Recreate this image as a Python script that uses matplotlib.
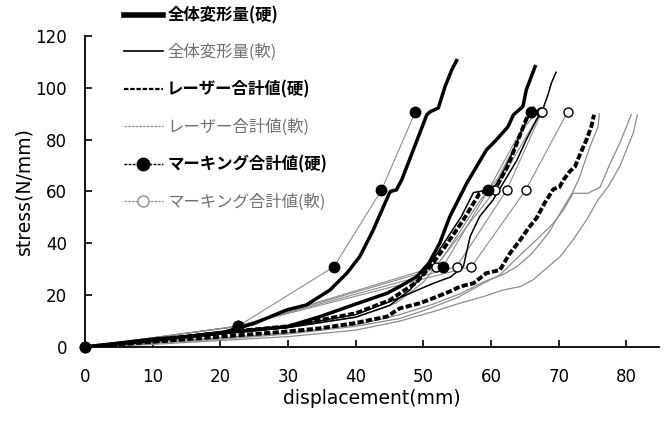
import matplotlib
matplotlib.use("Agg")
import matplotlib.pyplot as plt
from matplotlib.lines import Line2D

plt.rcParams['font.family'] = ['DejaVu Sans', 'Noto Sans CJK JP']

# ---- data (displacement mm, stress N/mm) ----
# 全体変形量(硬) : thick solid
hard_total_1_x = [0, 5, 10, 15, 20, 25, 29.8, 32.7, 36.2, 38.7, 40.6, 42.6, 44.1, 45.1, 46.0, 46.8, 48.5, 50.5, 51.0, 52.2, 53.2, 54.2, 54.9]
hard_total_1_y = [0, 1.5, 3, 4, 5.3, 9.1, 14.3, 16.2, 22, 28.5, 34.9, 45.2, 54.2, 60, 60.6, 64.5, 76, 89.6, 90.8, 92.2, 100.5, 107, 110.5]
hard_total_2_x = [0, 10, 20, 29.8, 34.7, 39.6, 44.6, 46.5, 49.0, 50.8, 52.4, 53.9, 56.4, 59.3, 60.8, 62.5, 63.3, 64.7, 65.2, 66.5]
hard_total_2_y = [0, 2.5, 5.5, 7.8, 11.7, 16.2, 20.7, 23.3, 27.1, 32.3, 40, 50.3, 63.2, 76, 80, 85, 89.6, 92.8, 99.2, 108.2]
# 全体変形量(軟) : thin solid
soft_total_1_x = [0, 10, 20, 30, 40, 46.5, 51.4, 54.0, 55.9, 56.9, 58.3, 60.3, 61.5, 63.8, 65.2, 66.7, 67.7, 68.4, 68.9, 69.6]
soft_total_1_y = [0, 2.5, 5, 8, 12.5, 19, 24.5, 27, 31, 42.6, 50.3, 56.8, 62, 72, 80, 87.6, 92.2, 97.3, 101.8, 106]
soft_total_2_x = [0, 10, 20, 30, 40, 45, 48, 50.0, 52.5, 55.6, 57.4, 60.3, 61.5, 63.0, 64.6, 66.3]
soft_total_2_y = [0, 2.5, 5, 7.5, 11.5, 16, 22, 28, 38, 50.3, 59.6, 60.9, 66, 74, 84, 92.5]
# レーザー合計値(硬) : thick dashed
laser_hard_1_x = [0, 10, 20, 30, 34.7, 39.6, 44.6, 46.5, 49.5, 51.4, 53.9, 55.4, 57.4, 59.3, 61.3, 62.8, 64.3, 65.5, 66.7, 67.9, 69.2, 70.1, 70.7, 71.6, 72.4, 72.9, 74.1, 74.8, 75.2]
laser_hard_1_y = [0, 2, 4, 6, 7.2, 9.1, 11.7, 14.9, 16.9, 18.8, 21.4, 23.3, 24.6, 28.5, 29.7, 36.2, 41.3, 45.8, 49.7, 55.5, 60.9, 61.7, 64.5, 67.7, 69.6, 72.9, 80, 85, 89.6]
laser_hard_2_x = [0, 10, 20, 30, 40, 45, 49, 51, 53, 55.9, 58.3, 60.8, 62.5, 64.0, 65.2, 66.0]
laser_hard_2_y = [0, 2.5, 5.5, 8, 13, 18, 25, 31, 38, 49, 59.3, 61.9, 70, 80, 88, 91.5]
# レーザー合計値(軟) : thin gray
laser_soft_1_x = [0, 10, 20, 30, 40, 46.5, 51.4, 55.4, 58.8, 61.8, 63.8, 66.0, 68.5, 70.5, 72.1, 73.0, 74.6, 75.8, 76.0]
laser_soft_1_y = [0, 2, 3.5, 5.5, 8.5, 12.5, 16.5, 20.5, 25, 28, 31, 36, 44, 53, 60, 65, 77.3, 85, 90]
laser_soft_2_x = [0, 10, 20, 30, 40, 46.5, 50, 55, 58.8, 61.3, 64.3, 67.2, 69.2, 70.7, 72.1, 74.3, 76.1, 77.5, 79.0, 80.7]
laser_soft_2_y = [0, 1.5, 3, 5, 8, 11, 14, 19, 24.5, 27.8, 35.5, 42.6, 47.8, 52.9, 59.3, 59.3, 61.7, 70.3, 78.6, 89.6]
laser_soft_3_x = [0, 10, 20, 30, 40, 46.5, 48, 51.4, 55.4, 58.8, 61.8, 64.3, 66.2, 68.2, 70.2, 72.1, 74.1, 75.8, 77.3, 79.0, 81.0, 81.6]
laser_soft_3_y = [0, 1, 2.5, 4, 6.5, 10, 11.1, 13.6, 16.9, 19.4, 22, 23.3, 25.9, 30.4, 34.9, 41.3, 49, 56.8, 61.9, 69.6, 82.5, 89.6]
laser_soft_4_x = [0, 20, 30, 40, 46, 50, 53, 56, 58.5, 61, 63, 65, 66.5]
laser_soft_4_y = [0, 5, 7.5, 11.5, 17, 25, 35, 47, 57, 65, 75, 85, 90]
# マーキング合計値 : markers joined by thin gray lines
mark_stress = [0, 8, 31, 60.5, 90.7]
mark_hard_1_x = [0, 22.6, 36.8, 43.8, 48.8]
mark_hard_2_x = [0, 22.6, 52.9, 59.6, 65.9]
mark_soft_1_x = [0, 22.6, 51.8, 60.6, 67.3]
mark_soft_2_x = [0, 22.6, 54.9, 62.3, 67.5]
mark_soft_3_x = [0, 22.6, 57.1, 65.1, 71.3]

labels = ['全体変形量(硬)', '全体変形量(軟)', 'レーザー合計値(硬)', 'レーザー合計値(軟)',
          'マーキング合計値(硬)', 'マーキング合計値(軟)']

GRAY = '#8c8c8c'
fig = plt.figure(figsize=(6.69, 4.21), dpi=100)
ax = fig.add_axes([0.127, 0.1758, 0.858, 0.7387])

for xs, ys in [(laser_soft_1_x, laser_soft_1_y), (laser_soft_2_x, laser_soft_2_y),
               (laser_soft_3_x, laser_soft_3_y), (laser_soft_4_x, laser_soft_4_y)]:
    ax.plot(xs, ys, color=GRAY, lw=0.9, zorder=2)
for xs in [mark_soft_1_x, mark_soft_2_x, mark_soft_3_x, mark_hard_1_x, mark_hard_2_x]:
    ax.plot(xs, mark_stress, color=GRAY, lw=0.8, zorder=2)
for xs, ys in [(soft_total_1_x, soft_total_1_y), (soft_total_2_x, soft_total_2_y)]:
    ax.plot(xs, ys, color='black', lw=1.1, zorder=3)
for xs, ys in [(laser_hard_1_x, laser_hard_1_y), (laser_hard_2_x, laser_hard_2_y)]:
    ax.plot(xs, ys, color='black', lw=2.8, ls=(0, (1.6, 0.6)), zorder=4)
for xs, ys in [(hard_total_1_x, hard_total_1_y), (hard_total_2_x, hard_total_2_y)]:
    ax.plot(xs, ys, color='black', lw=2.5, zorder=4)
for xs in [mark_soft_1_x, mark_soft_2_x, mark_soft_3_x]:
    ax.plot(xs, mark_stress, ls='none', marker='o', ms=6.5, mfc='white', mec='black', mew=1.0, zorder=5, clip_on=False)
for xs in [mark_hard_1_x, mark_hard_2_x]:
    ax.plot(xs, mark_stress, ls='none', marker='o', ms=7.5, mfc='black', mec='black', zorder=6, clip_on=False)

ax.set_xlim(0, 84.8); ax.set_ylim(0, 120)
ax.set_xticks(range(0, 81, 10)); ax.set_yticks(range(0, 121, 20))
for s in ['top', 'right']: ax.spines[s].set_visible(False)
for s in ['left', 'bottom']: ax.spines[s].set_linewidth(1.3)
ax.tick_params(axis='both', direction='in', length=5, width=1.2, labelsize=12)
ax.tick_params(axis='x', pad=15)
ax.tick_params(axis='y', pad=13)
ax.set_xlabel('displacement(mm)', fontsize=13.5, labelpad=2)
ax.set_ylabel('stress(N/mm)', fontsize=13.5, labelpad=1)

handles = [Line2D([], [], color='black', lw=4),
           Line2D([], [], color='black', lw=1.2),
           Line2D([], [], color='black', lw=1.6, ls=(0, (2, 0.8))),
           Line2D([], [], color=GRAY, lw=0.9, ls=(0, (2, 1))),
           Line2D([], [], color='black', lw=1.0, ls=(0, (2, 1)), marker='o', ms=9, mfc='black', mec='black'),
           Line2D([], [], color=GRAY, lw=0.9, ls=(0, (2, 1)), marker='o', ms=8, mfc='white', mec=GRAY)]
leg = fig.legend(handles, labels, loc='upper left', bbox_to_anchor=(0.185, 0.985), frameon=False,
                 prop={'family': ['Noto Sans CJK JP'], 'size': 11.8}, labelspacing=1.2,
                 handlelength=2.4, handletextpad=0.25, borderpad=0, borderaxespad=0)
for i, t in enumerate(leg.get_texts()):
    if i % 2 == 0:
        t.set_fontweight('bold')
    else:
        t.set_color('#707070')

fig.savefig('out.png', dpi=100)
